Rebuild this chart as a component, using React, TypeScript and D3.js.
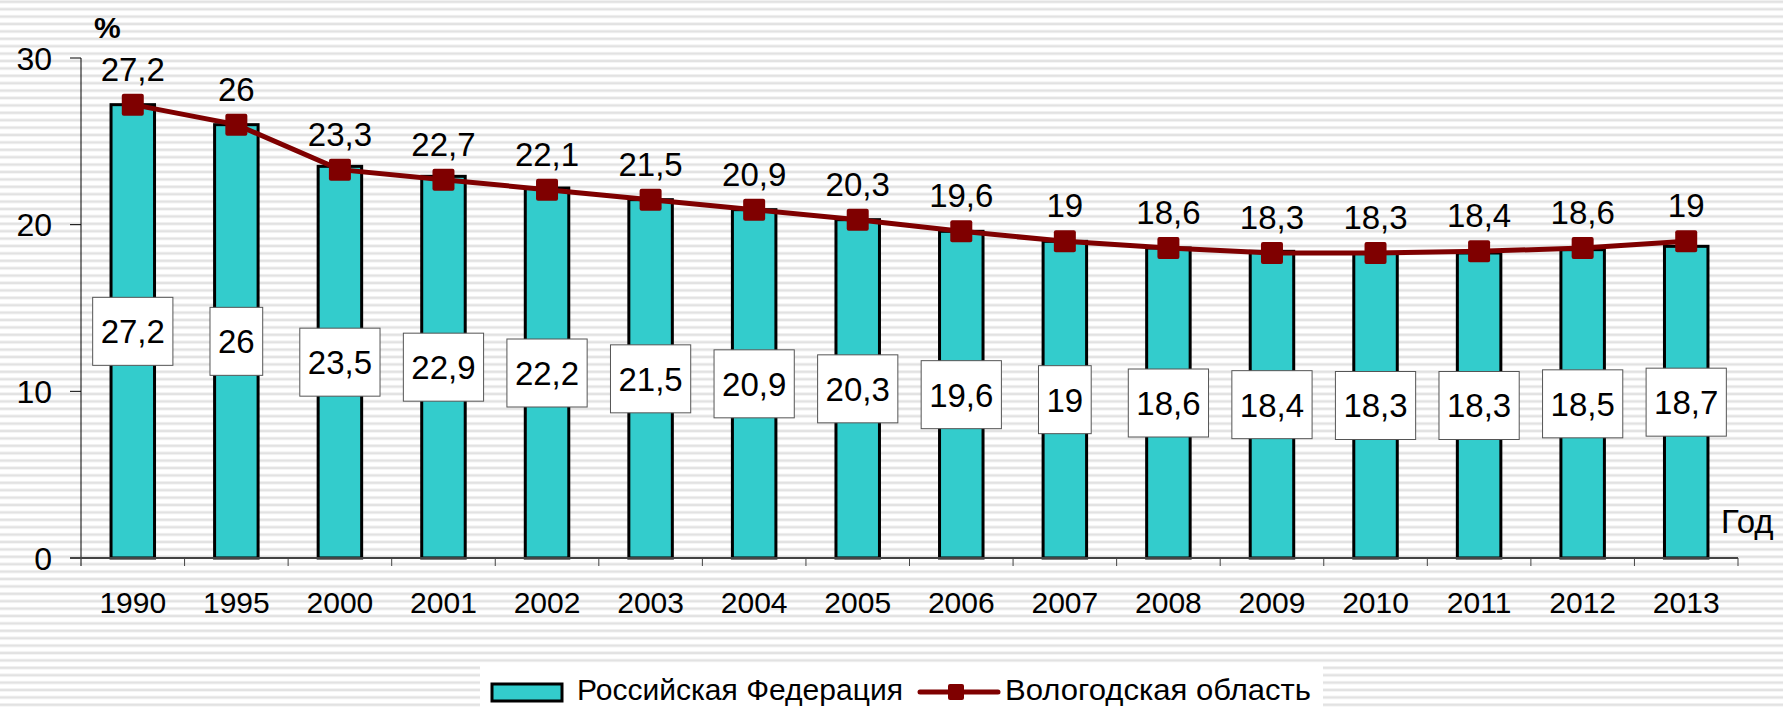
import React, { useEffect, useRef } from 'react';
import * as d3 from 'd3';

// годы
const years = ['1990', '1995', '2000', '2001', '2002', '2003', '2004', '2005', '2006', '2007', '2008', '2009', '2010', '2011', '2012', '2013'];
// Российская Федерация (столбцы)
const rfValues = [27.2, 26, 23.5, 22.9, 22.2, 21.5, 20.9, 20.3, 19.6, 19, 18.6, 18.4, 18.3, 18.3, 18.5, 18.7];
// Вологодская область (линия)
const voValues = [27.2, 26, 23.3, 22.7, 22.1, 21.5, 20.9, 20.3, 19.6, 19, 18.6, 18.3, 18.3, 18.4, 18.6, 19];
const yTicks = [0, 10, 20, 30];
const seriesNames = ['Российская Федерация', 'Вологодская область'];

const W = 1783;
const H = 707;
const FONT = '"Liberation Sans", Arial, sans-serif';
const TEAL = '#33CCCC';
const RED = '#7F0000';

const fmt = (v: number) => String(v).replace('.', ',');

export default function App() {
    const ref = useRef<SVGSVGElement>(null);

    useEffect(() => {
        const svg = d3.select(ref.current);
        svg.selectAll('*').remove();

        const defs = svg.append('defs');
        const pat = defs.append('pattern')
            .attr('id', 'stripes')
            .attr('patternUnits', 'userSpaceOnUse')
            .attr('width', 20)
            .attr('height', 7.4);
        pat.append('rect').attr('width', 20).attr('height', 7.4).attr('fill', '#ffffff');
        pat.append('rect').attr('y', 0.5).attr('width', 20).attr('height', 2.6).attr('fill', '#e2e2e2');

        svg.append('rect').attr('width', W).attr('height', H).attr('fill', 'url(#stripes)');

        const x = d3.scaleBand().domain(years).range([81, 1738]).paddingInner(0).paddingOuter(0);
        const y = d3.scaleLinear().domain([0, 30]).range([558, 58]);
        const bw = x.bandwidth() * 0.42;
        const cx = (d: string) => (x(d) as number) + x.bandwidth() / 2;

        // оси
        const axis = svg.append('g');
        axis.append('line').attr('x1', 81).attr('x2', 81).attr('y1', y(30)).attr('y2', 566)
            .attr('stroke', '#000').attr('stroke-width', 1);
        yTicks.forEach(t => {
            axis.append('line').attr('x1', 70).attr('x2', 81).attr('y1', y(t)).attr('y2', y(t))
                .attr('stroke', '#000').attr('stroke-width', 1);
            axis.append('text').attr('x', 52).attr('y', y(t)).attr('dy', '0.36em')
                .attr('text-anchor', 'end').attr('font-family', FONT).attr('font-size', 32)
                .attr('fill', '#000').text(t);
        });
        years.forEach(yr => {
            const bx = (x(yr) as number) + x.bandwidth();
            axis.append('line').attr('x1', bx).attr('x2', bx).attr('y1', 558).attr('y2', 566)
                .attr('stroke', '#444').attr('stroke-width', 1);
            axis.append('text').attr('x', cx(yr)).attr('y', 602).attr('dy', '0.36em')
                .attr('text-anchor', 'middle').attr('font-family', FONT).attr('font-size', 30)
                .attr('fill', '#000').text(yr);
        });

        // столбцы
        svg.append('g').selectAll('rect').data(rfValues).enter().append('rect')
            .attr('x', (d, i) => cx(years[i]) - bw / 2)
            .attr('y', d => y(d))
            .attr('width', bw)
            .attr('height', d => y(0) - y(d))
            .attr('fill', TEAL)
            .attr('stroke', '#000')
            .attr('stroke-width', 3);

        axis.raise();
        svg.append('line').attr('x1', 70).attr('x2', 1738).attr('y1', 558).attr('y2', 558)
            .attr('stroke', '#444').attr('stroke-width', 2);

        // подписи в рамках
        const boxes = svg.append('g');
        rfValues.forEach((v, i) => {
            const g = boxes.append('g');
            const t = g.append('text').attr('x', cx(years[i])).attr('y', y(v / 2)).attr('dy', '0.36em')
                .attr('text-anchor', 'middle').attr('font-family', FONT).attr('font-size', 33)
                .attr('fill', '#000').text(fmt(v));
            const tw = (t.node() as SVGTextElement).getComputedTextLength();
            g.insert('rect', 'text')
                .attr('x', cx(years[i]) - tw / 2 - 8)
                .attr('y', y(v / 2) - 34)
                .attr('width', tw + 16)
                .attr('height', 68)
                .attr('fill', '#fff')
                .attr('stroke', '#555')
                .attr('stroke-width', 1);
        });

        // линия
        const line = d3.line<number>().x((d, i) => cx(years[i])).y(d => y(d));
        svg.append('path').datum(voValues).attr('d', line)
            .attr('fill', 'none').attr('stroke', RED).attr('stroke-width', 5);
        svg.append('g').selectAll('rect').data(voValues).enter().append('rect')
            .attr('x', (d, i) => cx(years[i]) - 11)
            .attr('y', d => y(d) - 11)
            .attr('width', 22).attr('height', 22).attr('rx', 2)
            .attr('fill', RED);
        svg.append('g').selectAll('text').data(voValues).enter().append('text')
            .attr('x', (d, i) => cx(years[i]))
            .attr('y', d => y(d) - 36)
            .attr('dy', '0.36em')
            .attr('text-anchor', 'middle').attr('font-family', FONT).attr('font-size', 33)
            .attr('fill', '#000').text(d => fmt(d));

        // подписи осей
        svg.append('text').attr('x', 94).attr('y', 38).attr('font-family', FONT)
            .attr('font-size', 30).attr('font-weight', 'bold').attr('fill', '#000').text('%');
        svg.append('text').attr('x', 1721).attr('y', 533).attr('font-family', FONT)
            .attr('font-size', 33).attr('fill', '#000').text('Год');

        // легенда
        const lg = svg.append('g');
        lg.append('rect').attr('x', 480).attr('y', 664).attr('width', 843).attr('height', 43).attr('fill', '#fff');
        lg.append('rect').attr('x', 492).attr('y', 684).attr('width', 70).attr('height', 17)
            .attr('fill', TEAL).attr('stroke', '#000').attr('stroke-width', 3);
        lg.append('text').attr('x', 577).attr('y', 700).attr('font-family', FONT).attr('font-size', 30)
            .attr('textLength', 326).attr('lengthAdjust', 'spacingAndGlyphs').attr('fill', '#000').text(seriesNames[0]);
        lg.append('line').attr('x1', 920).attr('x2', 998).attr('y1', 692).attr('y2', 692)
            .attr('stroke', RED).attr('stroke-width', 5).attr('stroke-linecap', 'round');
        lg.append('rect').attr('x', 948).attr('y', 684).attr('width', 16).attr('height', 16).attr('rx', 2).attr('fill', RED);
        lg.append('text').attr('x', 1005).attr('y', 700).attr('font-family', FONT).attr('font-size', 30)
            .attr('textLength', 306).attr('lengthAdjust', 'spacingAndGlyphs').attr('fill', '#000').text(seriesNames[1]);
    }, []);

    return (
        <svg ref={ref} width={W} height={H} style={{ position: 'absolute', left: 0, top: 0, display: 'block' }} />
    );
}
